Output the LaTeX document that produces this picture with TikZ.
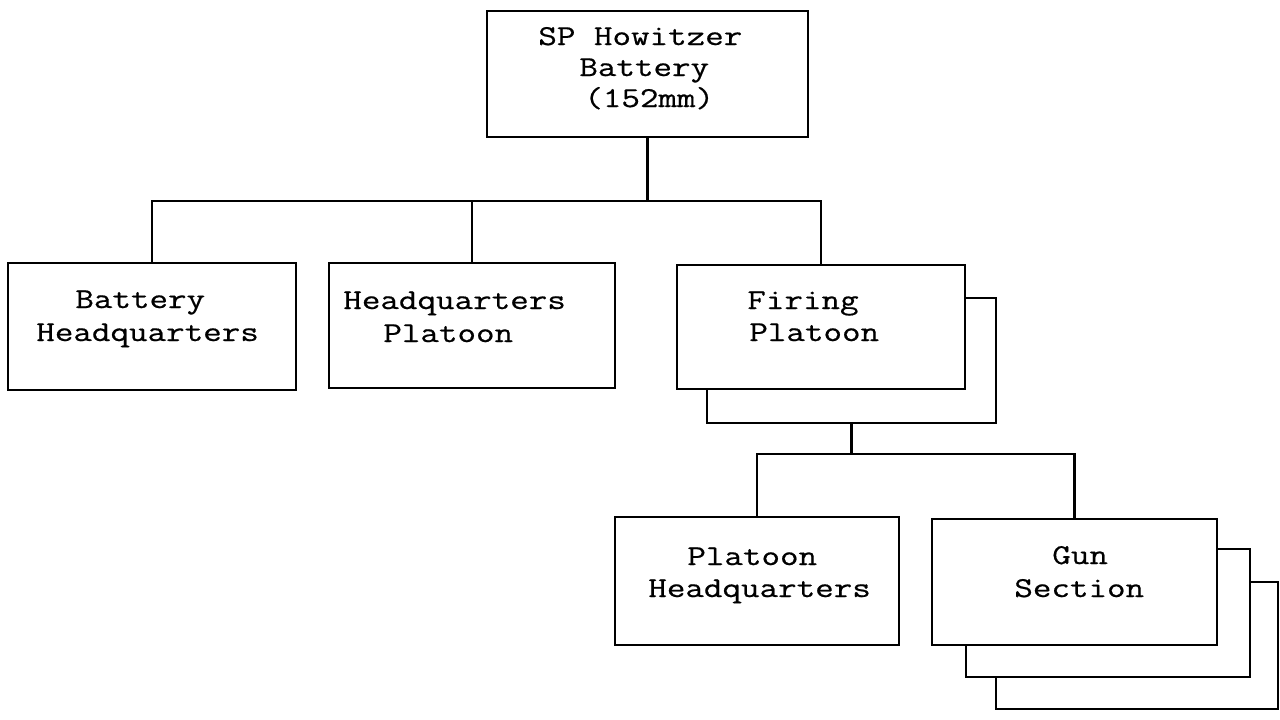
\documentclass[tikz,border=0pt]{standalone}
\usepackage{fontspec}
\newfontfamily\typew{Latin Modern Mono}[FakeStretch=1.25,FakeBold=0.6]
\begin{document}
\begin{tikzpicture}[x=0.5pt,y=-0.5pt,line width=1.35pt,
  box/.style={draw,fill=white,rectangle,inner sep=0pt},
  txt/.style={anchor=base west,inner sep=0pt,font=\typew\fontsize{14.4}{16}\selectfont}]
\useasboundingbox (0,0) rectangle (1280,719);
\fill[white] (0,0) rectangle (1280,719);
% boxes
\node[box,minimum width=160.5pt,minimum height=63pt] (top) at (647.5,74) {};
\node[box,minimum width=144pt,minimum height=63.5pt] (bhq) at (152,326.5) {};
\node[box,minimum width=143pt,minimum height=62.5pt] (hqp) at (472,325.5) {};
\node[box,minimum width=144.5pt,minimum height=62.5pt] (fp2) at (851.5,360.5) {};
\node[box,minimum width=144pt,minimum height=62pt] (fp) at (821,327) {};
\node[box,minimum width=142pt,minimum height=64pt] (phq) at (757,581) {};
\node[box,minimum width=141pt,minimum height=63.5pt] (gs3) at (1137,645.5) {};
\node[box,minimum width=142pt,minimum height=64pt] (gs2) at (1108,613) {};
\node[box,minimum width=142.5pt,minimum height=63pt] (gs) at (1074.5,582) {};
% texts
\node[txt] (top1) at (537,45) {SP Howitzer};
\node[txt] (top2) at (578,76) {Battery};
\node[txt] (top3) at (583,107) {(152mm)};
\node[txt] (bhq1) at (74,308) {Battery};
\node[txt] (bhq2) at (35,341) {Headquarters};
\node[txt] (hqp1) at (342,309) {Headquarters};
\node[txt] (hqp2) at (382,342) {Platoon};
\node[txt] (fp1) at (746,309) {Firing};
\node[txt] (fpt2) at (748,341) {Platoon};
\node[txt] (phq1) at (686,565) {Platoon};
\node[txt] (phq2) at (647,597) {Headquarters};
\node[txt] (gs1) at (1051,564) {Gun};
\node[txt] (gst2) at (1013,597) {Section};
% connectors
\coordinate (j1) at (648,201);
\coordinate (j2) at (822,454);
\draw (top.south) -- (top.south |- j1);
\draw (bhq.north) |- (fp.north |- j1) -- (fp.north);
\draw (hqp.north) -- (hqp.north |- j1);
\draw (fp2.south) -- (fp2.south |- j2);
\draw (phq.north) |- (gs.north |- j2) -- (gs.north);
\end{tikzpicture}
\end{document}
